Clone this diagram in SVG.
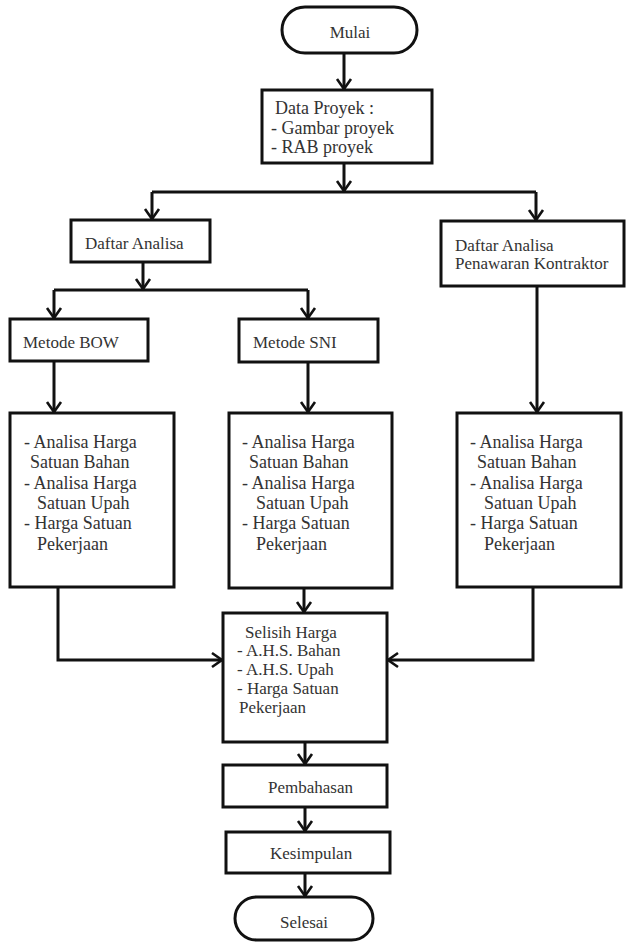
<svg xmlns="http://www.w3.org/2000/svg" width="627" height="942" viewBox="0 0 627 942">
<defs>
<style>
.box{fill:#fff;stroke:#111;stroke-width:3}
.t{font-family:"Liberation Serif","Times New Roman",serif;font-size:17px;fill:#333}
.t18{font-size:18px}
.c{text-anchor:middle}
.ln{fill:none;stroke:#111;stroke-width:3}
.ar{marker-end:url(#arr)}
</style>
<marker id="arr" viewBox="-1 -9 13 18" refX="10" refY="0" markerWidth="13" markerHeight="18" markerUnits="userSpaceOnUse" orient="auto" overflow="visible">
<path d="M0,-7 L10,0 L0,7" fill="none" stroke="#111" stroke-width="2.6"/>
</marker>
</defs>
<rect width="627" height="942" fill="#fff"/>

<g id="connectors">
<path class="ln ar" d="M344 53 V89"/>
<path class="ln ar" d="M344 163 V191"/>
<path class="ln" d="M152 192 H536"/>
<path class="ln ar" d="M152 192 V219"/>
<path class="ln ar" d="M536 192 V220"/>
<path class="ln ar" d="M143 262 V289"/>
<path class="ln" d="M54 290 H308"/>
<path class="ln ar" d="M54 290 V318"/>
<path class="ln ar" d="M308 290 V318"/>
<path class="ln ar" d="M54 361 V412"/>
<path class="ln ar" d="M308 362 V412"/>
<path class="ln ar" d="M537 286 V412"/>
<path class="ln ar" d="M58 587 V660 H222"/>
<path class="ln ar" d="M533 587 V660 H388"/>
<path class="ln ar" d="M304 588 V612"/>
<path class="ln ar" d="M305 742 V764"/>
<path class="ln ar" d="M305 807 V831"/>
<path class="ln ar" d="M305 873 V896"/>
</g>

<g id="mulai">
<rect class="box" x="282" y="7" width="135" height="46" rx="23"/>
<text class="t c" x="350" y="38">Mulai</text>
</g>

<g id="data-proyek">
<rect class="box" x="262" y="90" width="170" height="73"/>
<text class="t t18" x="275" y="114">Data Proyek :</text>
<text class="t t18" x="271" y="134">- Gambar proyek</text>
<text class="t t18" x="271" y="153">- RAB proyek</text>
</g>

<g id="daftar-analisa">
<rect class="box" x="71" y="220" width="139" height="42"/>
<text class="t" x="85" y="249">Daftar Analisa</text>
</g>

<g id="daftar-penawaran">
<rect class="box" x="441" y="221" width="183" height="65"/>
<text class="t" x="455" y="251">Daftar Analisa</text>
<text class="t" x="455" y="269">Penawaran Kontraktor</text>
</g>

<g id="metode-bow">
<rect class="box" x="10" y="319" width="138" height="42"/>
<text class="t" x="23" y="348">Metode BOW</text>
</g>

<g id="metode-sni">
<rect class="box" x="239" y="319" width="139" height="43"/>
<text class="t" x="253" y="348">Metode SNI</text>
</g>

<g id="analisa-bow">
<rect class="box" x="10" y="413" width="164" height="174"/>
<text class="t t18" x="24" y="448">- Analisa Harga</text>
<text class="t t18" x="30" y="468">Satuan Bahan</text>
<text class="t t18" x="24" y="489">- Analisa Harga</text>
<text class="t t18" x="37" y="509">Satuan Upah</text>
<text class="t t18" x="24" y="529">- Harga Satuan</text>
<text class="t t18" x="37" y="550">Pekerjaan</text>
</g>

<g id="analisa-sni">
<rect class="box" x="229" y="413" width="163" height="175"/>
<text class="t t18" x="242" y="448">- Analisa Harga</text>
<text class="t t18" x="249" y="468">Satuan Bahan</text>
<text class="t t18" x="242" y="489">- Analisa Harga</text>
<text class="t t18" x="256" y="509">Satuan Upah</text>
<text class="t t18" x="242" y="529">- Harga Satuan</text>
<text class="t t18" x="256" y="550">Pekerjaan</text>
</g>

<g id="analisa-kontraktor">
<rect class="box" x="457" y="413" width="164" height="174"/>
<text class="t t18" x="470" y="448">- Analisa Harga</text>
<text class="t t18" x="477" y="468">Satuan Bahan</text>
<text class="t t18" x="470" y="489">- Analisa Harga</text>
<text class="t t18" x="484" y="509">Satuan Upah</text>
<text class="t t18" x="470" y="529">- Harga Satuan</text>
<text class="t t18" x="484" y="550">Pekerjaan</text>
</g>

<g id="selisih">
<rect class="box" x="223" y="613" width="164" height="129"/>
<text class="t" x="245" y="638">Selisih Harga</text>
<text class="t" x="237" y="656">- A.H.S. Bahan</text>
<text class="t" x="237" y="675">- A.H.S. Upah</text>
<text class="t" x="237" y="694">- Harga Satuan</text>
<text class="t" x="239" y="713">Pekerjaan</text>
</g>

<g id="pembahasan">
<rect class="box" x="223" y="765" width="164" height="42"/>
<text class="t" x="268" y="793">Pembahasan</text>
</g>

<g id="kesimpulan">
<rect class="box" x="226" y="832" width="164" height="41"/>
<text class="t" x="270" y="859">Kesimpulan</text>
</g>

<g id="selesai">
<rect class="box" x="235" y="897" width="138" height="43" rx="21.5"/>
<text class="t c" x="304" y="928">Selesai</text>
</g>
</svg>
